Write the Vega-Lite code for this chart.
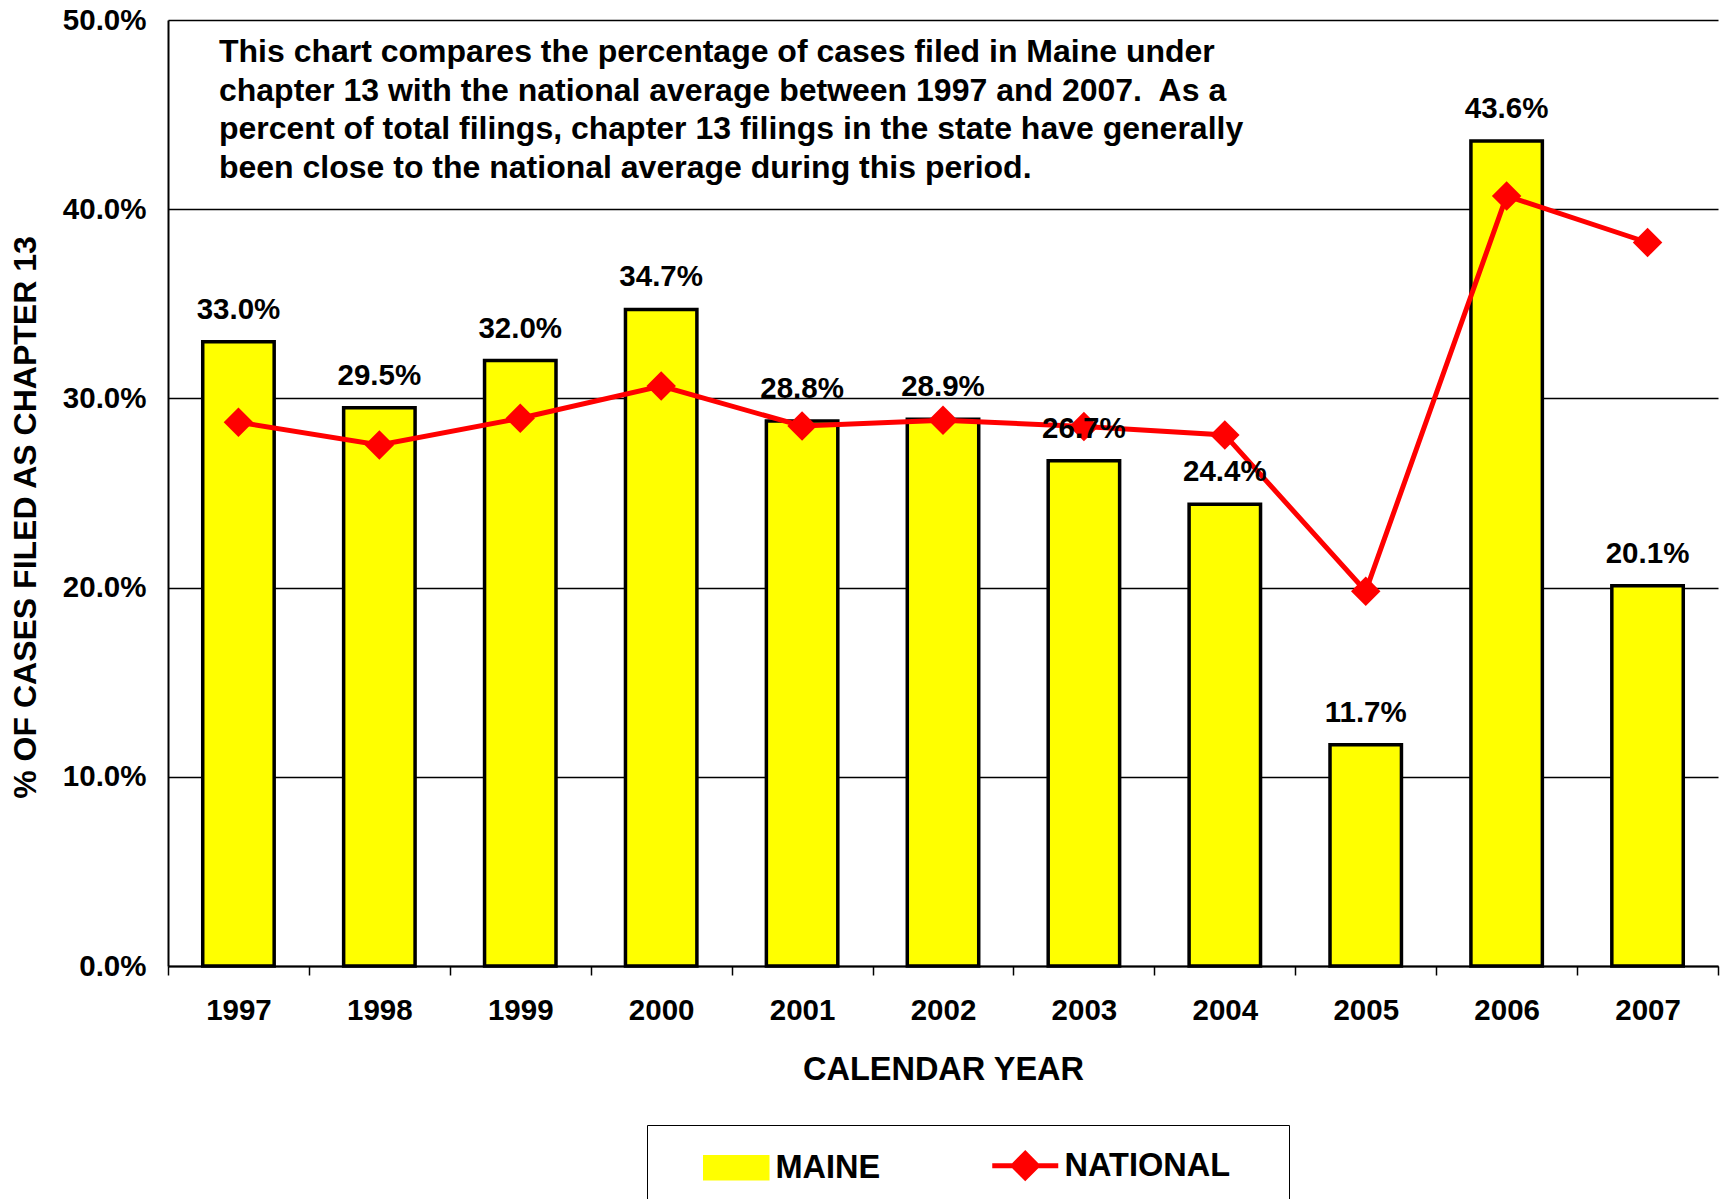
{
  "$schema": "https://vega.github.io/schema/vega-lite/v6.json",
  "width": 1550,
  "height": 946,
  "autosize": "none",
  "padding": {"left": 168, "top": 20, "right": 7, "bottom": 233},
  "background": "white",
  "config": {
    "font": "Liberation Sans",
    "view": {"stroke": null},
    "axis": {"labelFont": "Liberation Sans", "titleFont": "Liberation Sans"},
    "axisY": {
      "titleFontSize": 32, "titleFontWeight": "bold", "titleColor": "black", "titlePadding": 20, "titleY": 497,
      "labelFontSize": 29.5, "labelFontWeight": "bold", "labelColor": "black", "labelPadding": 22,
      "ticks": false, "grid": true, "gridColor": "black", "gridWidth": 1.5, "gridOpacity": 1,
      "domainColor": "black", "domainWidth": 2
    }
  },
  "data": {
    "values": [
      {"year": "1997", "maine": 0.330, "national": 0.2874},
      {"year": "1998", "maine": 0.295, "national": 0.2754},
      {"year": "1999", "maine": 0.320, "national": 0.2895},
      {"year": "2000", "maine": 0.347, "national": 0.3065},
      {"year": "2001", "maine": 0.288, "national": 0.2854},
      {"year": "2002", "maine": 0.289, "national": 0.2884},
      {"year": "2003", "maine": 0.267, "national": 0.2852},
      {"year": "2004", "maine": 0.244, "national": 0.2807},
      {"year": "2005", "maine": 0.117, "national": 0.1981},
      {"year": "2006", "maine": 0.436, "national": 0.4070},
      {"year": "2007", "maine": 0.201, "national": 0.3824}
    ]
  },
  "layer": [
    {
      "mark": {"type": "bar", "width": {"band": 0.507}, "stroke": "black", "strokeWidth": 3.5, "strokeJoin": "miter"},
      "encoding": {
        "x": {
          "field": "year", "type": "ordinal",
          "scale": {"paddingInner": 0, "paddingOuter": 0},
          "axis": {
            "title": "CALENDAR YEAR",
            "titleFontSize": 32.5, "titleFontWeight": "bold", "titleColor": "black", "titlePadding": 29,
            "labelFontSize": 29.5, "labelFontWeight": "bold", "labelColor": "black", "labelAngle": 0, "labelPadding": 21,
            "tickBand": "extent", "tickSize": 9, "tickColor": "black", "tickWidth": 1.5,
            "domainColor": "black", "domainWidth": 2, "grid": false
          }
        },
        "y": {
          "field": "maine", "type": "quantitative",
          "scale": {"domain": [0, 0.5], "nice": false},
          "axis": {"title": "% OF CASES FILED AS CHAPTER 13", "values": [0, 0.1, 0.2, 0.3, 0.4, 0.5], "format": ".1%"}
        },
        "color": {
          "datum": "MAINE", "type": "nominal",
          "scale": {"domain": ["MAINE", "NATIONAL"], "range": ["#FFFF00", "#FF0000"]},
          "legend": {
            "orient": "none", "legendX": 479, "legendY": 1105, "direction": "horizontal",
            "title": " ", "titleOrient": "right", "titleFontSize": 8, "titlePadding": 35,
            "strokeColor": "black", "fillColor": "white",
            "padding": 24,
            "labelFontSize": 32.5, "labelFontWeight": "bold", "labelColor": "black", "labelFont": "Liberation Sans", "labelLimit": 400,
            "symbolSize": 400, "symbolOffset": 49, "labelOffset": 23, "columnPadding": 79,
            "symbolType": {"expr": "datum.value === 'MAINE' ? 'M-3.15,-1.1H3.15V1.1H-3.15Z' : 'M-3.3,0H3.3M0,-1.2L1.2,0L0,1.2L-1.2,0Z'"},
            "symbolStrokeColor": {"expr": "datum.value === 'MAINE' ? 'black' : '#FF0000'"},
            "symbolStrokeWidth": {"expr": "datum.value === 'MAINE' ? 3.5 : 5"},
            "symbolOpacity": 1,
            "encoding": {
              "symbols": {
                "stroke": {"value": {"expr": "datum.value === 'MAINE' ? 'black' : '#FF0000'"}}
              }
            }
          }
        }
      }
    },
    {
      "mark": {"type": "line", "strokeWidth": 5},
      "encoding": {
        "x": {"field": "year", "type": "ordinal"},
        "y": {"field": "national", "type": "quantitative", "axis": {"title": "% OF CASES FILED AS CHAPTER 13"}},
        "color": {"datum": "NATIONAL", "type": "nominal", "legend": null}
      }
    },
    {
      "mark": {"type": "point", "shape": "diamond", "filled": true, "size": 870, "color": "#FF0000", "opacity": 1},
      "encoding": {
        "x": {"field": "year", "type": "ordinal"},
        "y": {"field": "national", "type": "quantitative", "axis": {"title": "% OF CASES FILED AS CHAPTER 13"}}
      }
    },
    {
      "mark": {"type": "text", "fontSize": 29.5, "fontWeight": "bold", "color": "black", "baseline": "alphabetic", "align": "center", "dy": -23},
      "encoding": {
        "x": {"field": "year", "type": "ordinal"},
        "y": {"field": "maine", "type": "quantitative", "axis": {"title": "% OF CASES FILED AS CHAPTER 13"}},
        "text": {"field": "maine", "type": "quantitative", "format": ".1%"}
      }
    },
    {
      "data": {"values": [{"note": "This chart compares the percentage of cases filed in Maine under\nchapter 13 with the national average between 1997 and 2007.\u00a0 As a\npercent of total filings, chapter 13 filings in the state have generally\nbeen close to the national average during this period."}]},
      "mark": {"type": "text", "fontSize": 32, "fontWeight": "bold", "color": "black", "align": "left", "baseline": "top", "lineBreak": "\n", "lineHeight": 38.5, "dx": -19.5, "dy": 17},
      "encoding": {
        "x": {"datum": "1997", "type": "ordinal"},
        "y": {"datum": 0.5, "type": "quantitative", "axis": {"title": "% OF CASES FILED AS CHAPTER 13"}},
        "text": {"field": "note", "type": "nominal"}
      }
    }
  ]
}
